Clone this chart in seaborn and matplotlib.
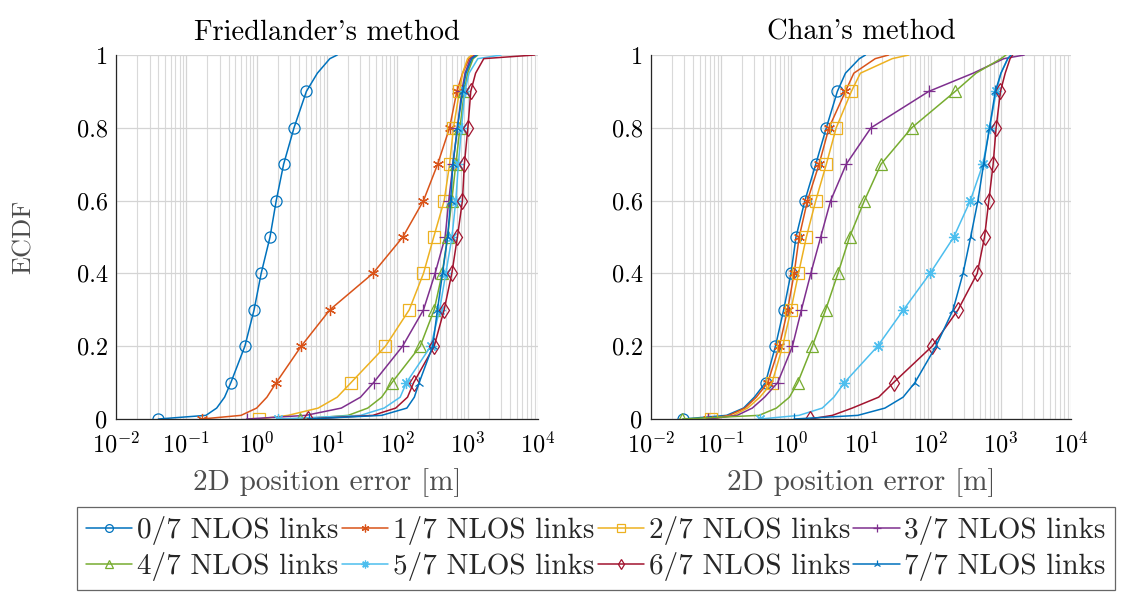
import seaborn as sns
import matplotlib.pyplot as plt
import matplotlib.ticker as mticker

sns.set_theme(style="white")
plt.rcParams['font.family'] = ['cmr10', 'DejaVu Serif']
plt.rcParams['mathtext.fontset'] = 'cm'
plt.rcParams['axes.formatter.use_mathtext'] = True
plt.rcParams['axes.unicode_minus'] = False

LEVELS = [0, 0.01, 0.03, 0.06, 0.1, 0.2, 0.3, 0.4, 0.5, 0.6, 0.7, 0.8, 0.9, 0.95, 0.99, 1.0]
MARK_IDX = [0, 4, 5, 6, 7, 8, 9, 10, 11, 12]

labels = [f"{k}/7 NLOS links" for k in range(8)]
colors = ['#0072BD', '#D95319', '#EDB120', '#7E2F8E',
          '#77AC30', '#4DBEEE', '#A2142F', '#0072BD']
markers = ['o', (6, 2, 0), 's', '+', '^', (8, 2, 0), 'd', '2']

# Friedlander's method: 2D error [m] at each level
fried_0 = [0.04, 0.19, 0.27, 0.35, 0.43, 0.68, 0.92, 1.16, 1.55, 1.9, 2.42, 3.4, 5.1, 7.3, 11, 14]
fried_1 = [0.165, 0.6, 1.0, 1.4, 1.9, 4.3, 11, 45, 120, 236, 375, 555, 703, 850, 1050, 1250]
fried_2 = [1.08, 2.8, 7.5, 14, 22, 68, 148, 236, 330, 465, 555, 630, 766, 850, 1000, 1150]
fried_3 = [0.72, 5, 16, 30, 46, 119, 236, 345, 480, 540, 620, 717, 826, 920, 1100, 1300]
fried_4 = [4.1, 20, 38, 60, 84, 212, 335, 435, 520, 596, 680, 780, 900, 1000, 1200, 1400]
fried_5 = [2.03, 30, 65, 110, 135, 300, 400, 490, 600, 680, 740, 820, 915, 1050, 1400, 3000]
fried_6 = [5.3, 45, 95, 140, 171, 335, 464, 597, 717, 845, 900, 1010, 1110, 1300, 1700, 9000]
fried_7 = [5.5, 60, 137, 175, 205, 319, 373, 440, 520, 575, 617, 717, 850, 950, 1150, 1350]

# Chan's method
chan_0 = [0.029, 0.12, 0.21, 0.30, 0.433, 0.60, 0.787, 1.0, 1.18, 1.58, 2.26, 3.2, 4.6, 6.0, 9.5, 11.6]
chan_1 = [0.066, 0.13, 0.22, 0.32, 0.466, 0.682, 0.895, 1.11, 1.31, 1.72, 2.52, 3.49, 6.0, 7.9, 16, 24.8]
chan_2 = [0.071, 0.15, 0.24, 0.36, 0.537, 0.76, 1.0, 1.28, 1.66, 2.26, 3.2, 4.43, 7.3, 9.8, 28, 48]
chan_3 = [0.066, 0.17, 0.28, 0.42, 0.646, 1.05, 1.41, 1.92, 2.66, 3.69, 6.15, 13.9, 93, 400, 1100, 2150]
chan_4 = [0.028, 0.35, 0.62, 0.95, 1.25, 2.02, 3.13, 4.69, 6.87, 11.2, 19.3, 53, 222, 440, 1000, 1180]
chan_5 = [0.363, 1.3, 2.8, 4.1, 5.8, 17.3, 40.5, 97, 212, 365, 552, 687, 860, 1000, 1250, 1400]
chan_6 = [1.88, 3.9, 7.5, 17.9, 29.2, 104, 244, 458, 583, 671, 773, 853, 984, 1150, 1350, 1470]
chan_7 = [1.11, 9, 22, 40, 59, 118, 207, 287, 369, 469, 565, 687, 830, 1000, 1250, 1390]

fried = [fried_0, fried_1, fried_2, fried_3, fried_4, fried_5, fried_6, fried_7]
chan = [chan_0, chan_1, chan_2, chan_3, chan_4, chan_5, chan_6, chan_7]

fig = plt.figure(figsize=(11.22, 5.94), dpi=100)
ax1 = fig.add_axes([0.1034, 0.2946, 0.376, 0.6128])
ax2 = fig.add_axes([0.5802, 0.2946, 0.3743, 0.6128])

for ax, curves, title in [(ax1, fried, "Friedlander's method"), (ax2, chan, "Chan's method")]:
    for i, xs in enumerate(curves):
        sns.lineplot(x=xs, y=LEVELS, ax=ax, color=colors[i], marker=markers[i],
                     markevery=MARK_IDX, markersize=8, markerfacecolor='none',
                     markeredgecolor=colors[i], markeredgewidth=0.9, linewidth=1.1,
                     estimator=None, sort=False, label=labels[i], legend=False)
    ax.set_xscale('log')
    ax.set_xlim(1e-2, 1e4)
    ax.set_ylim(0, 1)
    ax.set_xticks([1e-2, 1e-1, 1e0, 1e1, 1e2, 1e3, 1e4])
    ax.xaxis.set_minor_locator(mticker.LogLocator(base=10, subs=range(2, 10), numticks=20))
    ax.xaxis.set_minor_formatter(mticker.NullFormatter())
    ax.set_yticks([0, 0.2, 0.4, 0.6, 0.8, 1])
    ax.set_yticklabels(['0', '0.2', '0.4', '0.6', '0.8', '1'])
    ax.grid(True, which='major', color='#d4d4d4', linewidth=0.9)
    ax.grid(True, which='minor', axis='x', color='#d9d9d9', linewidth=0.8)
    ax.tick_params(axis='both', which='major', direction='in', length=4, labelsize=17.5,
                   colors='#262626', labelcolor='black', pad=6)
    ax.tick_params(axis='x', which='major', pad=9)
    ax.tick_params(axis='x', which='minor', direction='in', length=2.5, colors='#262626')
    for s in ['top', 'right']:
        ax.spines[s].set_visible(False)
    for s in ['left', 'bottom']:
        ax.spines[s].set_color('#262626')
        ax.spines[s].set_linewidth(0.9)
    ax.set_title(title, fontsize=20.5, pad=11, color='black')
    ax.set_xlabel("2D position error [m]", fontsize=21, color='#4d4d4d', labelpad=8)

ax1.set_ylabel("ECDF", fontsize=19, color='#4d4d4d')
ax1.yaxis.set_label_coords(-0.19, 0.5)
ax2.set_ylabel("")

# legend filled row by row, like the reference
handles, lbls = ax1.get_legend_handles_labels()
order = [0, 4, 1, 5, 2, 6, 3, 7]
leg = fig.legend([handles[k] for k in order], [lbls[k] for k in order],
                 loc='center', bbox_to_anchor=(0.531, 0.0766), ncol=4,
                 fontsize=21, frameon=True, fancybox=False, edgecolor='#404040',
                 markerscale=0.7, handlelength=1.6, handletextpad=0.15,
                 columnspacing=0.12, borderpad=0.3, labelspacing=0.25,
                 borderaxespad=0)
leg.get_frame().set_linewidth(0.9)

fig.savefig('out.png', dpi=100)
plt.close(fig)
